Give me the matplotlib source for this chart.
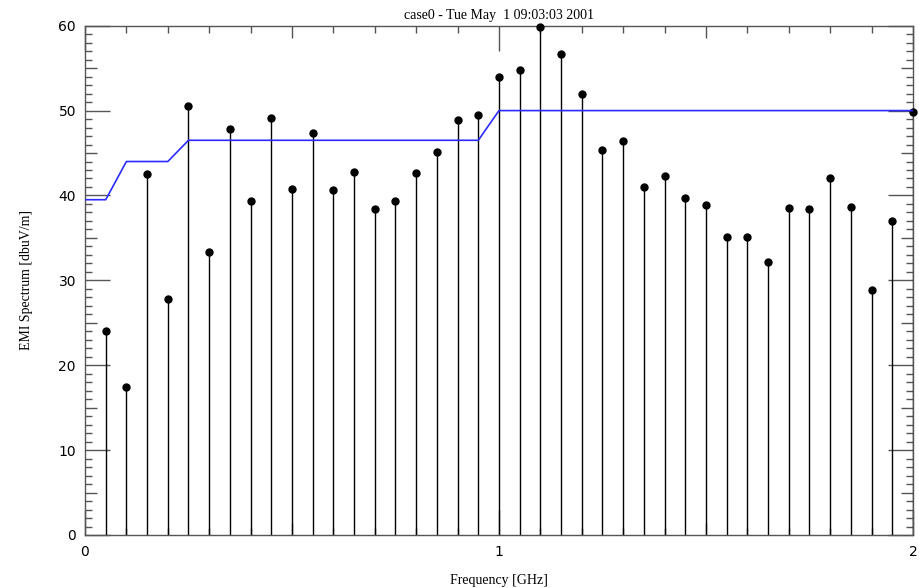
import matplotlib
matplotlib.use("Agg")
import matplotlib.pyplot as plt
import numpy as np

# EMI spectrum samples (GHz, dBuV/m)
freq = np.round(np.arange(1, 41) * 0.05, 2)
level = [24.0, 17.4, 42.5, 27.8, 50.5, 33.3, 47.8, 39.4, 49.1, 40.8,
         47.4, 40.7, 42.8, 38.4, 39.4, 42.6, 45.1, 48.9, 49.5, 53.9,
         54.8, 59.8, 56.7, 52.0, 45.3, 46.4, 41.0, 42.3, 39.7, 38.9,
         35.1, 35.1, 32.2, 38.5, 38.4, 42.0, 38.6, 28.9, 37.0, 49.8]

# limit line
limit_f = [0.0, 0.05, 0.1, 0.2, 0.25, 0.95, 1.0, 2.0]
limit_v = [39.5, 39.5, 44.0, 44.0, 46.5, 46.5, 50.0, 50.0]

title = "case0 - Tue May  1 09:03:03 2001"
serif = ["Liberation Serif", "DejaVu Serif"]
tick_col = "#555555"

fig = plt.figure(figsize=(9.2, 5.88), dpi=100)
ax = fig.add_axes([85 / 920, 53 / 588, 828 / 920, 509.3 / 588])

ax.vlines(freq, 0, level, color="black", lw=1.0, zorder=2)
ax.plot(freq, level, "o", color="black", ms=5, clip_on=False, zorder=3)
ax.plot(limit_f, limit_v, color="#2b2bff", lw=1.2, zorder=4)

ax.set_xlim(0, 2)
ax.set_ylim(0, 60)

for s in ax.spines.values():
    s.set_color(tick_col)
    s.set_linewidth(1.0)

ax.set_xticks([0, 1, 2])
ax.set_yticks(np.arange(0, 61, 10))
ax.set_xticks([t for t in np.round(np.arange(0, 2.01, 0.1), 2) if t % 0.5 > 1e-6 and 0.5 - t % 0.5 > 1e-6], minor=True)
ax.set_yticks([t for t in range(61) if t % 5], minor=True)
ax.tick_params(which="both", direction="in", top=True, right=True, color=tick_col, width=1.0)
ax.tick_params(which="major", length=18, labelsize=10)
ax.tick_params(which="minor", length=4.7)
ax.tick_params(axis="y", pad=6.5)
ax.tick_params(axis="x", pad=7)

# medium ticks at the half steps
for side in ["left", "right"]:
    sec = ax.secondary_yaxis(side)
    sec.set_yticks([5, 15, 25, 35, 45, 55])
    sec.tick_params(direction="in", length=8.6, color=tick_col, width=1.0,
                    labelleft=False, labelright=False)
    sec.spines[side].set_visible(False)
for side in ["top", "bottom"]:
    sec = ax.secondary_xaxis(side)
    sec.set_xticks([0.5, 1.5])
    sec.tick_params(direction="in", length=8.6, color=tick_col, width=1.0,
                    labeltop=False, labelbottom=False)
    sec.spines[side].set_visible(False)

ax.set_title(title, fontsize=10, family=serif, pad=5)
ax.set_xlabel("Frequency [GHz]", fontsize=10, family=serif, labelpad=11)
ax.set_ylabel("EMI Spectrum [dbuV/m]", fontsize=10, family=serif, labelpad=18)

fig.savefig("out.png", dpi=100)
